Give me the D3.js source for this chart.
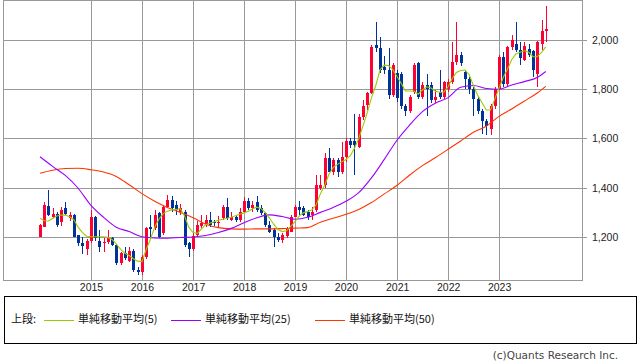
<!DOCTYPE html>
<html>
<head>
<meta charset="utf-8">
<script src="https://cdn.jsdelivr.net/npm/d3@7"></script>
<style>
  body { margin: 0; background: #fff; }
  svg { display: block; font-family: "DejaVu Sans", sans-serif; }
</style>
</head>
<body>
<svg id="chart" width="638" height="362"></svg>
<script>
// monthly candles, Jan 2014 .. Dec 2023
const months = d3.timeMonth.range(new Date(2014, 0, 1), new Date(2024, 0, 1));

const open = [1201,1242,1326,1283,1293,1262,1316,1276,1289,1208,1174,1150,
  1185,1283,1185,1175,1181,1195,1168,1093,1137,1104,1144,1066,
  1059,1120,1240,1237,1297,1215,1323,1350,1330,1300,1300,1175,
  1150,1210,1245,1250,1268,1262,1255,1276,1323,1270,1282,1270,
  1303,1346,1316,1343,1316,1296,1249,1228,1201,1188,1205,1222,
  1283,1323,1316,1303,1290,1310,1400,1411,1519,1465,1512,1465,
  1526,1590,1590,1566,1689,1736,1783,1980,1966,1892,1878,1777,
  1865,1860,1730,1710,1790,1905,1770,1817,1817,1756,1790,1770,
  1800,1831,1912,1940,1870,1840,1800,1760,1710,1670,1640,1730,
  1800,1930,1820,1970,1985,1960,1920,1965,1955,1860,1985,2035];
const high = [1253,1343,1391,1316,1303,1323,1343,1303,1293,1210,1201,1190,
  1310,1285,1228,1195,1228,1201,1170,1140,1160,1160,1150,1079,
  1125,1240,1290,1310,1300,1330,1370,1365,1345,1335,1310,1180,
  1215,1265,1290,1290,1300,1270,1285,1330,1357,1300,1290,1318,
  1364,1357,1345,1368,1330,1300,1265,1235,1215,1215,1240,1290,
  1330,1346,1325,1310,1320,1452,1452,1540,1560,1520,1520,1587,
  1600,1600,1700,1700,1757,1790,1980,2074,2013,1935,1966,1905,
  1880,1870,1740,1775,1905,1910,1830,1860,1830,1795,1880,1835,
  1840,1990,2074,1950,1880,1850,1810,1770,1720,1680,1740,1810,
  1940,1950,1975,2020,2074,1990,1990,1985,1960,1995,2080,2140];
const low = [1199,1239,1285,1276,1239,1245,1289,1266,1198,1164,1131,1127,
  1174,1185,1140,1140,1172,1163,1086,1086,1107,1100,1059,1045,
  1045,1110,1200,1230,1195,1210,1318,1300,1290,1290,1160,1120,
  1145,1205,1235,1240,1240,1245,1240,1270,1270,1265,1262,1262,
  1296,1310,1300,1300,1290,1240,1215,1160,1180,1174,1195,1220,
  1280,1290,1285,1270,1270,1303,1390,1400,1462,1450,1445,1455,
  1505,1560,1452,1560,1675,1715,1780,1950,1865,1860,1760,1770,
  1750,1720,1690,1705,1780,1760,1760,1690,1745,1745,1760,1760,
  1790,1820,1900,1895,1800,1780,1690,1700,1620,1615,1615,1720,
  1795,1810,1815,1960,1950,1900,1915,1930,1850,1810,1960,1990];
const close = [1249,1330,1289,1293,1249,1310,1293,1289,1201,1174,1163,1185,
  1283,1195,1160,1180,1195,1168,1093,1134,1113,1144,1066,1059,
  1120,1237,1232,1289,1201,1323,1350,1316,1310,1318,1168,1150,
  1205,1250,1255,1268,1250,1255,1262,1323,1276,1282,1270,1303,
  1346,1316,1330,1310,1296,1249,1222,1201,1188,1208,1235,1283,
  1323,1310,1290,1283,1303,1411,1411,1519,1465,1512,1465,1526,
  1590,1574,1574,1689,1730,1783,1973,1966,1878,1878,1777,1898,
  1763,1730,1710,1770,1898,1770,1817,1800,1756,1770,1770,1831,
  1830,1912,1940,1905,1840,1800,1760,1710,1670,1650,1730,1800,
  1930,1820,1970,2000,1960,1925,1975,1940,1880,1990,2035,2045];

const ma5 = [1276,1266,1265,1275,1285,1289,1289,1282,1270,1240,1218,1203,
  1201,1201,1201,1201,1199,1190,1172,1150,1134,1125,1112,1102,
  1100,1150,1190,1240,1272,1295,1305,1310,1312,1315,1285,1240,
  1218,1215,1232,1250,1256,1262,1268,1272,1276,1280,1286,1292,
  1298,1305,1314,1321,1316,1300,1278,1252,1230,1222,1225,1243,
  1262,1286,1298,1303,1310,1330,1375,1410,1455,1482,1495,1505,
  1515,1530,1560,1600,1650,1705,1765,1815,1880,1898,1896,1880,
  1851,1822,1793,1793,1793,1780,1797,1810,1805,1792,1788,1788,
  1810,1845,1868,1876,1878,1860,1815,1775,1745,1716,1716,1760,
  1805,1850,1880,1920,1943,1950,1956,1950,1932,1932,1950,1972];

// slower averages read every third month
const maIdx = [0,3,6,9,12,15,18,21,24,27,30,33,36,39,42,45,48,51,54,57,
  60,63,66,69,72,75,78,81,84,87,90,93,96,99,102,105,108,111,114,117,119];
const ma25 = [1526,1487,1450,1398,1328,1280,1240,1222,1201,1196,1195,1198,1200,1206,1218,1235,1258,1278,1290,1283,
  1272,1280,1300,1320,1345,1380,1440,1515,1594,1655,1709,1743,1766,1808,1815,1803,1800,1817,1831,1848,1872];
const ma50 = [1459,1471,1478,1479,1473,1464,1446,1412,1376,1345,1320,1300,1278,1252,1238,1233,1232,1233,1233,1234,
  1236,1238,1260,1276,1292,1312,1340,1375,1410,1452,1490,1522,1556,1590,1625,1650,1690,1720,1752,1785,1812];

const priceTicks = [1200, 1400, 1600, 1800, 2000];
const yearTicks = [2015, 2016, 2017, 2018, 2019, 2020, 2021, 2022, 2023];
const legendNames = ["単純移動平均(5)", "単純移動平均(25)", "単純移動平均(50)"];
const legendColors = ["#99cc00", "#9900ff", "#ff3300"];

const upColor = "#ff0033";
const downColor = "#003399";

const plotL = 3, plotR = 582, plotT = 0, plotB = 280;

const svg = d3.select("#chart");
svg.append("rect").attr("width", 638).attr("height", 362).attr("fill", "#fff");

const x = d3.scaleTime()
  .domain([months[0], months[months.length - 1]])
  .range([40, 545.75]);

const y = d3.scaleLinear()
  .domain([1025.4, 2162.4])
  .range([plotB, plotT]);

// horizontal grid, sticking out a little past the right border
svg.append("g")
  .attr("transform", `translate(587,0)`)
  .call(d3.axisLeft(y).tickValues(priceTicks).tickSize(587 - plotL).tickFormat(""))
  .call(g => g.select(".domain").remove())
  .call(g => g.selectAll("line").attr("stroke", "#999").attr("shape-rendering", "crispEdges"));

svg.append("g")
  .attr("transform", `translate(${plotR},0)`)
  .call(d3.axisRight(y).tickValues(priceTicks).tickSize(0).tickPadding(10).tickFormat(d3.format(",")))
  .call(g => g.select(".domain").remove())
  .call(g => g.selectAll("text").attr("fill", "#222").style("font-size", "10.5px"));

// vertical grid at each January
svg.append("g")
  .attr("transform", `translate(0,${plotB})`)
  .call(d3.axisBottom(x)
    .tickValues(yearTicks.map(yr => new Date(yr, 0, 1)))
    .tickSize(-(plotB - plotT))
    .tickPadding(4)
    .tickFormat(d3.timeFormat("%Y")))
  .call(g => g.select(".domain").remove())
  .call(g => g.selectAll("line").attr("stroke", "#999").attr("shape-rendering", "crispEdges"))
  .call(g => g.selectAll("text").attr("fill", "#222").style("font-size", "10.5px"));

// plot frame
svg.append("rect")
  .attr("x", plotL + 0.5).attr("y", plotT + 0.5)
  .attr("width", plotR - plotL).attr("height", plotB - plotT)
  .attr("fill", "none").attr("stroke", "#999")
  .attr("shape-rendering", "crispEdges");

// candles
const candles = svg.append("g").attr("shape-rendering", "crispEdges");
const bars = months.map((m, i) => ({ m, o: open[i], h: high[i], l: low[i], c: close[i] }));

candles.selectAll("line.wick")
  .data(bars)
  .join("line")
  .attr("class", "wick")
  .attr("x1", d => Math.round(x(d.m)) + 0.5)
  .attr("x2", d => Math.round(x(d.m)) + 0.5)
  .attr("y1", d => y(d.h))
  .attr("y2", d => y(d.l))
  .attr("stroke", d => d.c >= d.o ? upColor : downColor);

candles.selectAll("rect.body")
  .data(bars)
  .join("rect")
  .attr("class", "body")
  .attr("x", d => Math.round(x(d.m)) - 1)
  .attr("width", 3)
  .attr("y", d => y(Math.max(d.o, d.c)))
  .attr("height", d => Math.max(1, Math.abs(y(d.o) - y(d.c))))
  .attr("fill", d => d.c >= d.o ? upColor : downColor);

// moving averages
const lineMonthly = d3.line()
  .x((d, i) => x(months[i]))
  .y(d => y(d));
const lineSparse = d3.line()
  .x(d => x(months[d[0]]))
  .y(d => y(d[1]))
  .curve(d3.curveMonotoneX);

svg.append("path")
  .attr("d", lineSparse(maIdx.map((k, i) => [k, ma50[i]])))
  .attr("fill", "none").attr("stroke", legendColors[2]).attr("stroke-width", 1.1);
svg.append("path")
  .attr("d", lineSparse(maIdx.map((k, i) => [k, ma25[i]])))
  .attr("fill", "none").attr("stroke", legendColors[1]).attr("stroke-width", 1.1);
svg.append("path")
  .attr("d", lineMonthly(ma5))
  .attr("fill", "none").attr("stroke", legendColors[0]).attr("stroke-width", 1.1);

// legend
const legend = svg.append("g").style("font-family", "'Noto Sans CJK JP', sans-serif").style("font-size", "11px");
legend.append("rect")
  .attr("x", 4.5).attr("y", 296.5).attr("width", 632).attr("height", 47)
  .attr("fill", "none").attr("stroke", "#000").attr("shape-rendering", "crispEdges");
legend.append("text")
  .attr("x", 11).attr("y", 320).attr("dominant-baseline", "middle")
  .attr("fill", "#111").text("上段:");

const legendX = [44, 171, 315];
legendNames.forEach((name, i) => {
  legend.append("line")
    .attr("x1", legendX[i]).attr("x2", legendX[i] + 30)
    .attr("y1", 320.5).attr("y2", 320.5)
    .attr("stroke", legendColors[i]).attr("stroke-width", 1);
  legend.append("text")
    .attr("x", legendX[i] + 34).attr("y", 320).attr("dominant-baseline", "middle")
    .attr("fill", "#111").text(name);
});

svg.append("text")
  .attr("x", 618).attr("y", 356).attr("text-anchor", "end").attr("dominant-baseline", "middle")
  .style("font-size", "10.5px").attr("fill", "#444")
  .text("(c)Quants Research Inc.");
</script>
</body>
</html>
